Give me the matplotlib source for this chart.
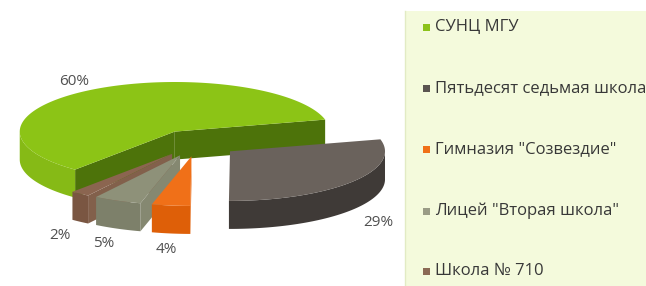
import numpy as np
import matplotlib.pyplot as plt
from matplotlib.patches import Polygon, Rectangle

# data
labels = ["СУНЦ МГУ", "Пятьдесят седьмая школа", 'Гимназия "Созвездие"',
          'Лицей "Вторая школа"', "Школа № 710"]
shares = [60, 29, 4, 5, 2]
pct_text = ["60%", "29%", "4%", "5%", "2%"]

top_colors = ["#8cc416", "#6a625c", "#f07018", "#8e9179", "#8b6550"]
arc_colors = ["#86ba16", "#3f3a37", "#de5f08", "#7d806a", "#7a5642"]
cut_colors = ["#4d730a", "#4b4541", "#e8660e", "#858871", "#82604b"]
legend_colors = ["#8cc21a", "#5a5450", "#f07018", "#9a9c86", "#8b6a55"]

# layout (pixels)
W, H = 646, 286
cx, cy = 197, 143        # pie centre
R = 155                  # radius
ratio = 0.32             # vertical squash of the tilted pie
depth = 28               # thickness
explode = 42
start = 230.0            # degrees, slices run clockwise

fig = plt.figure(figsize=(W / 100, H / 100), dpi=100)
ax = fig.add_axes([0, 0, 1, 1])
ax.set_xlim(0, W)
ax.set_ylim(H, 0)
ax.axis("off")


def proj(u, v, z=0.0):
    return cx + u, cy - v * ratio + z


angles = []
a = start
for s in shares:
    a2 = a - s * 3.6
    angles.append((a2, a))  # (lo, hi) counter-clockwise
    a = a2

wedges = []
for i, (lo, hi) in enumerate(angles):
    mid = np.radians((lo + hi) / 2)
    ou, ov = explode * np.cos(mid), explode * np.sin(mid)
    wedges.append((i, lo, hi, mid, ou, ov))

# sides: far wedges first
for i, lo, hi, mid, ou, ov in sorted(wedges, key=lambda w: -w[5]):
    # cut faces
    for ang, normal in ((hi, hi + 90), (lo, lo - 90)):
        if np.sin(np.radians(normal)) >= 0:
            continue
        t = np.radians(ang)
        p0 = proj(ou, ov)
        p1 = proj(ou + R * np.cos(t), ov + R * np.sin(t))
        quad = [p0, p1, (p1[0], p1[1] + depth), (p0[0], p0[1] + depth)]
        ax.add_patch(Polygon(quad, closed=True, fc=cut_colors[i], ec="none"))
    # outer front side
    ts = np.radians(np.linspace(lo, hi, 200))
    ts = ts[np.sin(ts) < 0.0]
    if len(ts) > 1:
        top = [proj(ou + R * np.cos(t), ov + R * np.sin(t)) for t in ts]
        bot = [(x, y + depth) for x, y in top[::-1]]
        ax.add_patch(Polygon(top + bot, closed=True, fc=arc_colors[i], ec="none"))

# tops
for i, lo, hi, mid, ou, ov in wedges:
    ts = np.radians(np.linspace(lo, hi, 200))
    pts = [proj(ou, ov)] + [proj(ou + R * np.cos(t), ov + R * np.sin(t)) for t in ts]
    ax.add_patch(Polygon(pts, closed=True, fc=top_colors[i], ec="none"))

# percentage labels
for i, lo, hi, mid, ou, ov in wedges:
    x, y = proj(ou + 1.22 * R * np.cos(mid), ov + 1.2 * R * np.sin(mid))
    if np.sin(mid) < 0:
        y += depth + 6
    ax.text(x, y, pct_text[i], ha="center", va="center", fontsize=11,
            color="#505050", fontfamily="Open Sans")

# legend panel
ax.add_patch(Rectangle((405, 11), W - 405 + 5, H - 11 + 5, fc="#f4fadc", ec="none"))
ax.plot([405, 405], [11, H], color="#e2ebc4", lw=1)
rows = [27, 88, 149, 211, 271]
for i, lab in enumerate(labels):
    ax.add_patch(Rectangle((423, rows[i] - 3.5), 7, 7, fc=legend_colors[i], ec="none"))
    ax.text(435, rows[i], lab, ha="left", va="center", fontsize=12,
            color="#383838", fontfamily="Open Sans", clip_on=True)

fig.savefig("out.png", dpi=100)
